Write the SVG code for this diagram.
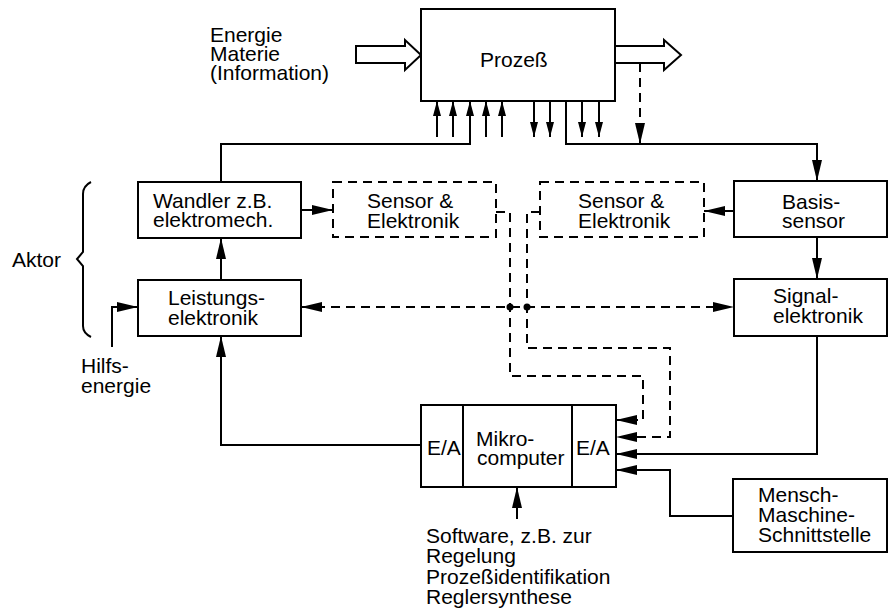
<svg xmlns="http://www.w3.org/2000/svg" width="890" height="612" viewBox="0 0 890 612">
<style>
.box{fill:#fff;stroke:#000;stroke-width:2}
.dbox{fill:none;stroke:#000;stroke-width:2;stroke-dasharray:9 6}
.ln{fill:none;stroke:#000;stroke-width:2}
.dl{fill:none;stroke:#000;stroke-width:2;stroke-dasharray:9 6}
.ar{marker-end:url(#ah)}
.sa{marker-end:url(#sh)}
text{font-family:"Liberation Sans",Arial,Helvetica,sans-serif;font-size:21px;fill:#000}
.c{text-anchor:middle}
</style>
<defs>
<marker id="ah" markerUnits="userSpaceOnUse" markerWidth="21" markerHeight="10" refX="21" refY="5" orient="auto-start-reverse"><path d="M0,0 L21,5 L0,10 z" fill="#000"/></marker>
<marker id="sh" markerUnits="userSpaceOnUse" markerWidth="15" markerHeight="8" refX="15" refY="4" orient="auto"><path d="M0,0 L15,4 L0,8 z" fill="#000"/></marker>
</defs>

<g id="connectors">
<polygon class="ln" points="356,46 405,46 405,40 421,55 405,70 405,63 356,63"/>
<polygon class="ln" points="615,46 664,46 664,40 681,55 664,70 664,63 615,63"/>
<path class="ln sa" d="M437,137 V101"/>
<path class="ln sa" d="M453,137 V101"/>
<path class="ln sa" d="M221,182 V144 H470 V101"/>
<path class="ln sa" d="M486,137 V101"/>
<path class="ln sa" d="M502,137 V101"/>
<path class="ln sa" d="M534,101 V137"/>
<path class="ln sa" d="M550,101 V137"/>
<path class="ln sa" d="M582,101 V137"/>
<path class="ln sa" d="M599,101 V137"/>
<path class="ln ar" d="M566,101 V144 H817 V181"/>
<path class="dl ar" d="M640,63 V144"/>
<path class="ln ar" d="M221,280 V238"/>
<path class="ln ar" d="M301,210 H333"/>
<path class="ln ar" d="M734,211 H704"/>
<path class="ln ar" d="M817,237 V279"/>
<path class="ln ar" d="M112,347 V307 H138"/>
<path class="ln ar" d="M421,445 H221 V336"/>
<path class="ln ar" d="M817,336 V454 H616"/>
<path class="ln ar" d="M733,516 H670 V470 H616"/>
<path class="ln ar" d="M517,519 V487"/>
<path class="dl" d="M301,307 H734" marker-start="url(#ah)" marker-end="url(#ah)"/>
<path class="dl ar" d="M496,212 H510 V376 H643 V420 H616"/>
<path class="dl ar" d="M540,212 H527 V348 H670 V437 H616"/>
<circle cx="510" cy="307" r="3.5" fill="#000"/>
<circle cx="527" cy="307" r="3.5" fill="#000"/>
<path class="ln" d="M91,182 Q83,186 83,194 V252 L77,259 L83,266 V326 Q83,333 91,337"/>
</g>

<g id="inputs">
<text x="210" y="42">Energie</text>
<text x="210" y="61">Materie</text>
<text x="210" y="80">(Information)</text>
</g>

<g id="prozess">
<rect class="box" x="421" y="9" width="194" height="92"/>
<text x="480" y="67">Prozeß</text>
</g>

<g id="wandler">
<rect class="box" x="138" y="182" width="163" height="56"/>
<text x="153" y="207.5">Wandler z.B.</text>
<text x="153" y="227">elektromech.</text>
</g>

<g id="sensor-links">
<rect class="dbox" x="333" y="182" width="163" height="55"/>
<text x="367" y="208">Sensor &amp;</text>
<text x="367" y="228">Elektronik</text>
</g>

<g id="sensor-rechts">
<rect class="dbox" x="540" y="182" width="164" height="55"/>
<text x="578" y="208">Sensor &amp;</text>
<text x="578" y="228">Elektronik</text>
</g>

<g id="basissensor">
<rect class="box" x="734" y="181" width="153" height="56"/>
<text x="782" y="209">Basis-</text>
<text x="782" y="228">sensor</text>
</g>

<g id="leistungselektronik">
<rect class="box" x="138" y="280" width="163" height="56"/>
<text x="168" y="305">Leistungs-</text>
<text x="168" y="325">elektronik</text>
</g>

<g id="signalelektronik">
<rect class="box" x="734" y="279" width="153" height="57"/>
<text x="773" y="303">Signal-</text>
<text x="773" y="323">elektronik</text>
</g>

<g id="aktor">
<text x="12" y="267">Aktor</text>
</g>

<g id="hilfsenergie">
<text x="81" y="373">Hilfs-</text>
<text x="81" y="393">energie</text>
</g>

<g id="mikrocomputer">
<rect class="box" x="421" y="405" width="195" height="82"/>
<path class="ln" d="M463,405 V487 M572,405 V487"/>
<text x="427" y="455">E/A</text>
<text x="476" y="446">Mikro-</text>
<text x="477" y="465">computer</text>
<text x="576" y="455">E/A</text>
</g>

<g id="mms">
<rect class="box" x="733" y="479" width="154" height="73"/>
<text x="758" y="502">Mensch-</text>
<text x="758" y="522">Maschine-</text>
<text x="758" y="542">Schnittstelle</text>
</g>

<g id="software">
<text x="426" y="543">Software, z.B. zur</text>
<text x="426" y="563">Regelung</text>
<text x="426" y="584">Prozeßidentifikation</text>
<text x="426" y="604">Reglersynthese</text>
</g>
</svg>
